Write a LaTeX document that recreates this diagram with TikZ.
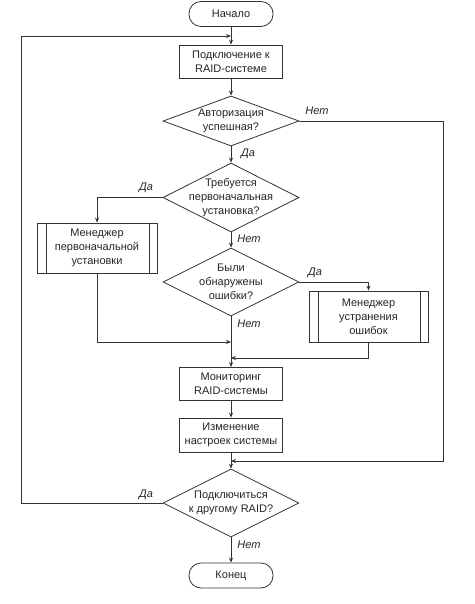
\documentclass[tikz,border=0pt]{standalone}
\usepackage{fontspec}
\setmainfont{Liberation Sans}
\usetikzlibrary{arrows.meta,shapes.geometric}
\begin{document}
\begin{tikzpicture}[x=1pt,y=-1pt,
  every node/.style={font=\fontsize{11}{14}\selectfont, text=black!85},
  line/.style={draw=black!80, line width=0.8pt},
  arr/.style={line, -{Stealth[length=5pt,width=4pt]}},
  term/.style={line, rounded corners=12pt, minimum width=84pt, minimum height=25pt, inner sep=0pt},
  proc/.style={line, minimum width=103pt, minimum height=33pt, inner sep=1pt, align=center},
  sub/.style={line, minimum width=120pt, minimum height=50pt, inner sep=1pt, align=center,
    path picture={\draw[black!80, line width=0.8pt]
      ([xshift=9pt]path picture bounding box.north west) -- ([xshift=9pt]path picture bounding box.south west)
      ([xshift=-8pt]path picture bounding box.north east) -- ([xshift=-8pt]path picture bounding box.south east);}},
  dia/.style={line, shape=diamond, minimum width=136pt, inner sep=0pt},
  lbl/.style={font=\itshape\fontsize{11}{14}\selectfont}
]
\useasboundingbox (0,0) rectangle (474,604);
\fill[white] (0,0) rectangle (474,604);

\node[term] (start) at (231,14) {Начало};
\node[proc] (box1) at (231,61.5) {Подключение к\\RAID-системе};
\node[dia, minimum height=50pt, label={[align=center]center:{Авторизация\\успешная?}}] (d1) at (231,121) {};
\node[dia, minimum height=69pt, label={[align=center]center:{Требуется\\первоначальная\\установка?}}] (d2) at (231,197.5) {};
\node[sub] (m1) at (97,248) {Менеджер\\первоначальной\\установки};
\node[dia, minimum height=68pt, label={[align=center]center:{Были\\обнаружены\\ошибки?}}] (d3) at (231,282) {};
\node[sub, minimum width=119pt, minimum height=51pt] (m2) at (368.5,316.5) {Менеджер\\устранения\\ошибок};
\node[proc] (mon) at (231,384) {Мониторинг\\RAID-системы};
\node[proc, minimum height=34pt] (chg) at (231,435) {Изменение\\настроек системы};
\node[dia, minimum height=68pt, label={[align=center]center:{Подключиться\\к другому RAID?}}] (d4) at (231,503) {};
\node[term] (end) at (231,575.5) {Конец};

\coordinate (loopTop) at (21,36);
\coordinate (loopIn) at (231,36);
\coordinate (noRight) at (443,121);
\coordinate (merge2) at (231,461);
\coordinate (merge1L) at (231,342);
\coordinate (merge1R) at (231,358);

\draw[arr] (start) -- (box1);
\draw[arr] (box1) -- (d1);
\draw[arr] (d1) -- (d2);
\draw[line] (d1.east) -- (noRight);
\draw[arr] (noRight) |- (merge2);
\draw[arr] (d2.west) -| (m1.north);
\draw[arr] (d2) -- (d3);
\draw[arr] (d3.east) -| (m2.north);
\draw[arr] (d3) -- (mon);
\draw[arr] (m1.south) |- (merge1L);
\draw[arr] (m2.south) |- (merge1R);
\draw[arr] (mon) -- (chg);
\draw[arr] (chg) -- (d4);
\draw[arr] (d4) -- (end);
\draw[line] (d4.west) -| (loopTop);
\draw[arr] (loopTop) -- (loopIn);

\node[lbl] (n1) at (317,111) {Нет};
\node[lbl] (y1) at (248,154) {Да};
\node[lbl] (y2) at (146,188) {Да};
\node[lbl] (n2) at (249,238.5) {Нет};
\node[lbl] (y3) at (315,273) {Да};
\node[lbl] (n3) at (249,324) {Нет};
\node[lbl] (y4) at (146,495) {Да};
\node[lbl] (n4) at (249,545) {Нет};
\end{tikzpicture}
\end{document}
